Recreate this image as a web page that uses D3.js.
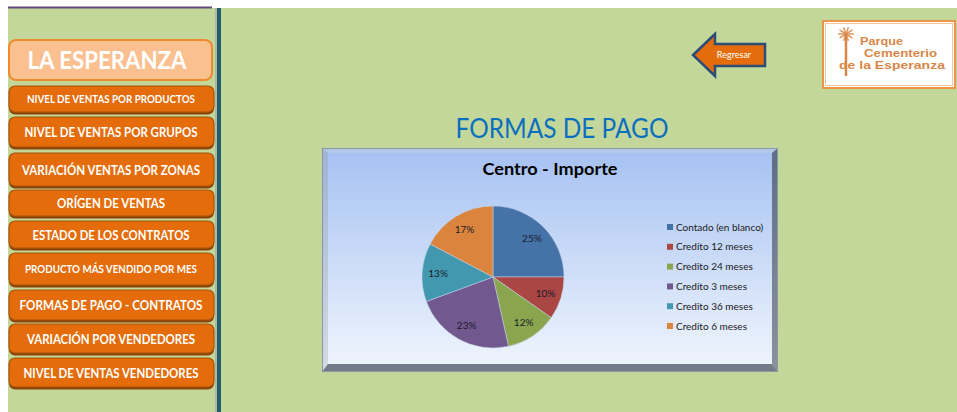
<!DOCTYPE html>
<html>
<head>
<meta charset="utf-8">
<script src="https://cdn.jsdelivr.net/npm/d3@7"></script>
<style>
	body { margin: 0; background: #ffffff; }
	svg { display: block; }
</style>
</head>
<body>
<div id="chart"></div>
<script>
// ---- data ----
var menuLabels = [
	"NIVEL DE VENTAS POR PRODUCTOS",
	"NIVEL DE VENTAS POR GRUPOS",
	"VARIACIÓN VENTAS POR ZONAS",
	"ORÍGEN DE VENTAS",
	"ESTADO DE LOS CONTRATOS",
	"PRODUCTO MÁS VENDIDO POR MES",
	"FORMAS DE PAGO -  CONTRATOS",
	"VARIACIÓN POR VENDEDORES",
	"NIVEL DE VENTAS VENDEDORES"
];
var categories = [
	"Contado (en blanco)",
	"Credito 12 meses",
	"Credito 24 meses",
	"Credito 3 meses",
	"Credito 36 meses",
	"Credito 6 meses"
];
var values = [25.0, 9.7, 11.8, 22.9, 13.3, 17.3];
var pageTitle = "FORMAS DE PAGO";
var chartTitle = "Centro - Importe";
var logoLines = ["Parque", "Cementerio", "de la Esperanza"];

// ---- layout (not data) ----
var menuBoxes = [
	{y0: 86, y1: 113, fs: 10.5, w: 168},
	{y0: 117, y1: 148, fs: 12.5, w: 173},
	{y0: 153, y1: 187, fs: 12.5, w: 178},
	{y0: 190, y1: 217, fs: 12.5, w: 108},
	{y0: 221, y1: 249, fs: 12.5, w: 157},
	{y0: 253, y1: 286, fs: 11, w: 172},
	{y0: 290, y1: 321, fs: 12.5, w: 183},
	{y0: 324, y1: 354, fs: 12.5, w: 168},
	{y0: 358, y1: 388, fs: 12.5, w: 175}
];
var colors = ["#4572A7", "#AA4643", "#89A54E", "#71588F", "#4198AF", "#DB843D"];
var frame = {x0: 322, y0: 148, x1: 778, y1: 372, bx: 6, by: 5};
var pieCenter = {x: 493, y: 277},
	pieRadius = 71;

var svgContainer = d3.select("#chart")
	.append("svg")
	.attr("width", 957)
	.attr("height", 412);

var defs = svgContainer.append("defs");

function onLoad() {
	drawBackground();
	drawMenu();
	drawArrow();
	drawLogo();
	drawChart();
}

function drawBackground() {
	svgContainer.append("rect")
	.attr("x", 8).attr("y", 8)
	.attr("width", 949).attr("height", 404)
	.attr("fill", "#c4d79b");

	svgContainer.append("line")
	.attr("x1", 8).attr("x2", 212)
	.attr("y1", 7.5).attr("y2", 7.5)
	.attr("stroke", "#604a7b").attr("stroke-width", 2);

	svgContainer.append("rect")
	.attr("x", 215).attr("y", 8)
	.attr("width", 2).attr("height", 404)
	.attr("fill", "#a9b8a0");
	svgContainer.append("rect")
	.attr("x", 217).attr("y", 8)
	.attr("width", 4).attr("height", 404)
	.attr("fill", "#245c6a");

	svgContainer.append("text")
	.attr("x", 562).attr("y", 138)
	.attr("text-anchor", "middle")
	.attr("font-family", "Lato, 'Open Sans', sans-serif")
	.attr("font-size", 26)
	.attr("fill", "#0a6fbf")
	.attr("textLength", 213)
	.attr("lengthAdjust", "spacingAndGlyphs")
	.text(pageTitle);
}

function drawMenu() {
	// header
	svgContainer.append("rect")
	.attr("x", 9).attr("y", 40)
	.attr("width", 203).attr("height", 40)
	.attr("rx", 7)
	.attr("fill", "#fac090")
	.attr("stroke", "#ef8a2c")
	.attr("stroke-width", 2);
	svgContainer.append("text")
	.attr("x", 107).attr("y", 69)
	.attr("text-anchor", "middle")
	.attr("font-family", "Lato, sans-serif")
	.attr("font-weight", "bold")
	.attr("font-size", 25)
	.attr("fill", "#ffffff")
	.attr("textLength", 159)
	.attr("lengthAdjust", "spacingAndGlyphs")
	.text("LA ESPERANZA");

	var g = svgContainer.append("g");
	menuLabels.forEach((label, i) => {
		var b = menuBoxes[i];
		g.append("rect")
		.attr("x", 9).attr("y", b.y0 + 1.5)
		.attr("width", 205).attr("height", b.y1 - b.y0)
		.attr("rx", 6)
		.attr("fill", "#8c4206");
		g.append("rect")
		.attr("x", 9).attr("y", b.y0)
		.attr("width", 205).attr("height", b.y1 - b.y0 - 1)
		.attr("rx", 6)
		.attr("fill", "#e46c0a")
		.attr("stroke", "#a3540f")
		.attr("stroke-width", 1.2);
		g.append("text")
		.attr("x", 111).attr("y", (b.y0 + b.y1) / 2 + b.fs * 0.36)
		.attr("text-anchor", "middle")
		.attr("font-family", "Lato, sans-serif")
		.attr("font-weight", "bold")
		.attr("font-size", b.fs)
		.attr("fill", "#ffffff")
		.attr("textLength", b.w)
		.attr("lengthAdjust", "spacingAndGlyphs")
		.text(label);
	});
}

function drawArrow() {
	var pts = [[693, 55], [715, 34], [715, 44], [765, 44], [765, 66], [715, 66], [715, 76]];
	svgContainer.append("polygon")
	.attr("points", pts.map(p => p.join(",")).join(" "))
	.attr("fill", "#e46c0a")
	.attr("stroke", "#2b4d78")
	.attr("stroke-width", 2.5)
	.attr("stroke-linejoin", "miter");
	svgContainer.append("text")
	.attr("x", 734).attr("y", 58)
	.attr("text-anchor", "middle")
	.attr("font-family", "Lato, sans-serif")
	.attr("font-size", 9)
	.attr("fill", "#ffffff")
	.text("Regresar");
}

function drawLogo() {
	svgContainer.append("rect")
	.attr("x", 823).attr("y", 21)
	.attr("width", 132).attr("height", 67)
	.attr("fill", "#ffffff")
	.attr("stroke", "#ec9548")
	.attr("stroke-width", 2);
	svgContainer.append("rect")
	.attr("x", 825.5).attr("y", 23.5)
	.attr("width", 127).attr("height", 62)
	.attr("fill", "none")
	.attr("stroke", "#f6c49a")
	.attr("stroke-width", 1);

	var logoColor = "#d98748";
	// palm
	svgContainer.append("line")
	.attr("x1", 846).attr("y1", 35).attr("x2", 846).attr("y2", 76)
	.attr("stroke", logoColor).attr("stroke-width", 2.5);
	d3.range(10).forEach(k => {
		var a = k / 10 * Math.PI * 2;
		svgContainer.append("line")
		.attr("x1", 846).attr("y1", 34)
		.attr("x2", 846 + Math.cos(a) * 8).attr("y2", 34 + Math.sin(a) * 7)
		.attr("stroke", logoColor).attr("stroke-width", 1.5)
		.attr("opacity", 0.85);
	});

	var pos = [{x: 860, y: 45, w: 43}, {x: 864, y: 57, w: 73}, {x: 839, y: 69, w: 106}];
	logoLines.forEach((t, i) => {
		svgContainer.append("text")
		.attr("x", pos[i].x).attr("y", pos[i].y)
		.attr("font-family", "'Liberation Sans', Arial, sans-serif")
		.attr("font-weight", "bold")
		.attr("font-size", 11)
		.attr("fill", logoColor)
		.attr("textLength", pos[i].w)
		.attr("lengthAdjust", "spacingAndGlyphs")
		.text(t);
	});
}

function drawChart() {
	var grad = defs.append("linearGradient")
	.attr("id", "plotFill")
	.attr("x1", 0).attr("y1", 0).attr("x2", 0).attr("y2", 1);
	grad.append("stop").attr("offset", "0%").attr("stop-color", "#a7c2f2");
	grad.append("stop").attr("offset", "100%").attr("stop-color", "#eef4fd");

	var f = frame,
		ix0 = f.x0 + f.bx, iy0 = f.y0 + f.by,
		ix1 = f.x1 - f.bx, iy1 = f.y1 - f.by - 3;

	var rightGrad = defs.append("linearGradient")
	.attr("id", "rightBevel")
	.attr("x1", 0).attr("y1", 0).attr("x2", 0).attr("y2", 1);
	rightGrad.append("stop").attr("offset", "0%").attr("stop-color", "#5f6e85");
	rightGrad.append("stop").attr("offset", "100%").attr("stop-color", "#8a929d");

	var leftGrad = defs.append("linearGradient")
	.attr("id", "leftBevel")
	.attr("x1", 0).attr("y1", 0).attr("x2", 0).attr("y2", 1);
	leftGrad.append("stop").attr("offset", "0%").attr("stop-color", "#9fb3d3");
	leftGrad.append("stop").attr("offset", "100%").attr("stop-color", "#d4dae3");

	svgContainer.append("rect")
	.attr("x", ix0).attr("y", iy0)
	.attr("width", ix1 - ix0).attr("height", iy1 - iy0)
	.attr("fill", "url(#plotFill)");

	var bevels = [
		{pts: [[f.x0, f.y0], [f.x1, f.y0], [ix1, iy0], [ix0, iy0]], fill: "#b3c7e8"},
		{pts: [[f.x0, f.y0], [ix0, iy0], [ix0, iy1], [f.x0, f.y1]], fill: "url(#leftBevel)"},
		{pts: [[f.x1, f.y0], [f.x1, f.y1], [ix1, iy1], [ix1, iy0]], fill: "url(#rightBevel)"},
		{pts: [[f.x0, f.y1], [f.x1, f.y1], [ix1, iy1], [ix0, iy1]], fill: "#737c88"}
	];
	bevels.forEach(b => {
		svgContainer.append("polygon")
		.attr("points", b.pts.map(p => p.join(",")).join(" "))
		.attr("fill", b.fill);
	});
	svgContainer.append("rect")
	.attr("x", f.x0 + 0.5).attr("y", f.y0 + 0.5)
	.attr("width", f.x1 - f.x0 - 1).attr("height", f.y1 - f.y0 - 1)
	.attr("fill", "none")
	.attr("stroke", "#8a97ab")
	.attr("stroke-width", 1);

	svgContainer.append("text")
	.attr("x", 550).attr("y", 175)
	.attr("text-anchor", "middle")
	.attr("font-family", "Lato, sans-serif")
	.attr("font-weight", "bold")
	.attr("font-size", 17.5)
	.attr("fill", "#000000")
	.attr("textLength", 135)
	.attr("lengthAdjust", "spacingAndGlyphs")
	.text(chartTitle);

	var total = d3.sum(values);
	var pie = d3.pie().sort(null).value(d => d);
	var arcs = pie(values);
	var arc = d3.arc().innerRadius(0).outerRadius(pieRadius);
	var labelArc = d3.arc().innerRadius(pieRadius * 0.55).outerRadius(pieRadius);

	var pieGroup = svgContainer.append("g")
	.attr("transform", "translate(" + pieCenter.x + "," + pieCenter.y + ")");

	pieGroup.selectAll("path.slice")
	.data(arcs)
	.join("path")
	.attr("class", "slice")
	.attr("d", arc)
	.attr("fill", (d, i) => colors[i])
	.attr("stroke", "#c9d6ec")
	.attr("stroke-width", 0.5);

	pieGroup.selectAll("text.pct")
	.data(arcs)
	.join("text")
	.attr("class", "pct")
	.attr("transform", d => "translate(" + labelArc.centroid(d) + ")")
	.attr("dy", "0.35em")
	.attr("text-anchor", "middle")
	.attr("font-family", "Lato, sans-serif")
	.attr("font-size", 10)
	.attr("fill", "#1b1b2b")
	.text(d => Math.round(d.value / total * 100) + "%");

	var legendY = d3.scalePoint()
	.domain(categories)
	.range([227, 326]);

	var legend = svgContainer.append("g");
	legend.selectAll("rect")
	.data(categories)
	.join("rect")
	.attr("x", 667).attr("y", d => legendY(d) - 3)
	.attr("width", 6).attr("height", 6)
	.attr("fill", (d, i) => colors[i]);
	legend.selectAll("text")
	.data(categories)
	.join("text")
	.attr("x", 676).attr("y", d => legendY(d))
	.attr("dy", "0.35em")
	.attr("font-family", "Lato, sans-serif")
	.attr("font-size", 10)
	.attr("fill", "#1a1a1a")
	.text(d => d);
}

onLoad();
</script>
</body>
</html>
